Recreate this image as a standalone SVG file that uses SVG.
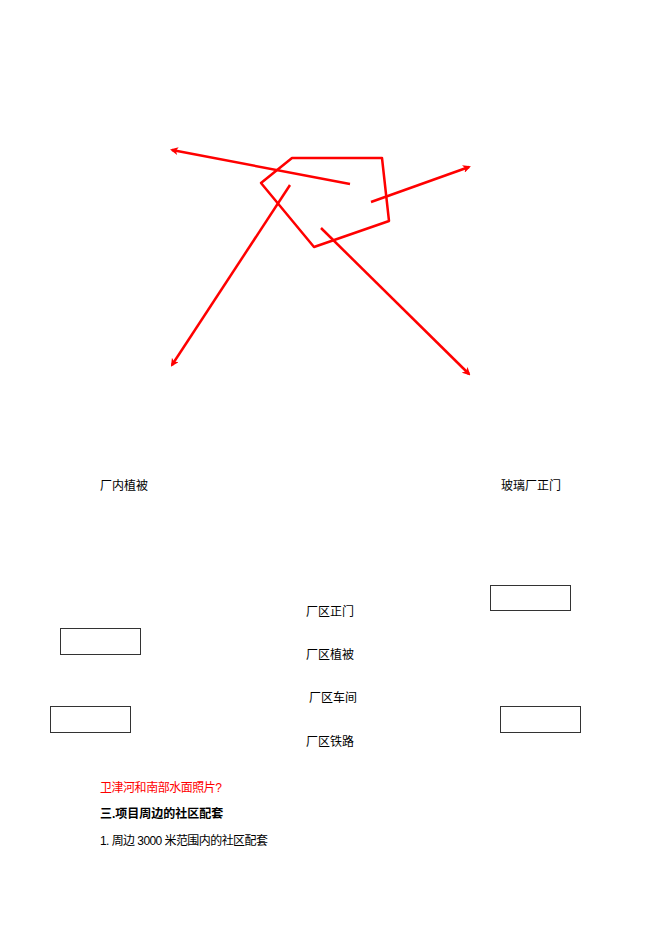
<svg xmlns="http://www.w3.org/2000/svg" width="662" height="936" viewBox="0 0 662 936">
<style>
.t{font-family:"Liberation Sans","Noto Sans CJK SC",sans-serif;font-size:12px;fill:#000}
.r{fill:#ff0000}
.b{font-weight:bold}
.box{fill:#fff;stroke:#333;stroke-width:1}
.ln{stroke:#ff0000;stroke-width:2.5;fill:none}
</style>
<defs>
<marker id="ah" markerWidth="8" markerHeight="8" refX="6" refY="4" orient="auto" markerUnits="userSpaceOnUse">
<path d="M0,0 L8,4 L0,8 L2,4 Z" fill="#ff0000"/>
</marker>
</defs>
<rect width="662" height="936" fill="#fff"/>
<g id="pentagon">
<polygon class="ln" stroke-linejoin="round" points="292,158 382,158 389,221 314,247 261,183"/>
</g>
<g id="connectors">
<line class="ln" x1="350" y1="184" x2="172" y2="150" marker-end="url(#ah)"/>
<line class="ln" x1="371" y1="202" x2="469" y2="167" marker-end="url(#ah)"/>
<line class="ln" x1="290" y1="185" x2="172" y2="365" marker-end="url(#ah)"/>
<line class="ln" x1="321" y1="228" x2="469" y2="374" marker-end="url(#ah)"/>
</g>
<g id="label-plant-vegetation"><text class="t" x="100" y="490">厂内植被</text></g>
<g id="label-glass-gate"><text class="t" x="501" y="490">玻璃厂正门</text></g>
<g id="box1"><rect class="box" x="490.5" y="585.5" width="80" height="25"/></g>
<g id="box2"><rect class="box" x="60.5" y="628.5" width="80" height="26"/></g>
<g id="box3"><rect class="box" x="50.5" y="706.5" width="80" height="26"/></g>
<g id="box4"><rect class="box" x="500.5" y="706.5" width="80" height="26"/></g>
<g id="label-gate"><text class="t" x="306" y="616">厂区正门</text></g>
<g id="label-veg"><text class="t" x="306" y="659">厂区植被</text></g>
<g id="label-workshop"><text class="t" x="309" y="702">厂区车间</text></g>
<g id="label-rail"><text class="t" x="306" y="746">厂区铁路</text></g>
<g id="text-red"><text class="t r" x="100" y="792" textLength="122">卫津河和南部水面照片?</text></g>
<g id="text-heading"><text class="t b" x="100" y="818">三.项目周边的社区配套</text></g>
<g id="text-item"><text class="t" x="100" y="845" textLength="168">1. 周边 3000 米范围内的社区配套</text></g>
</svg>
